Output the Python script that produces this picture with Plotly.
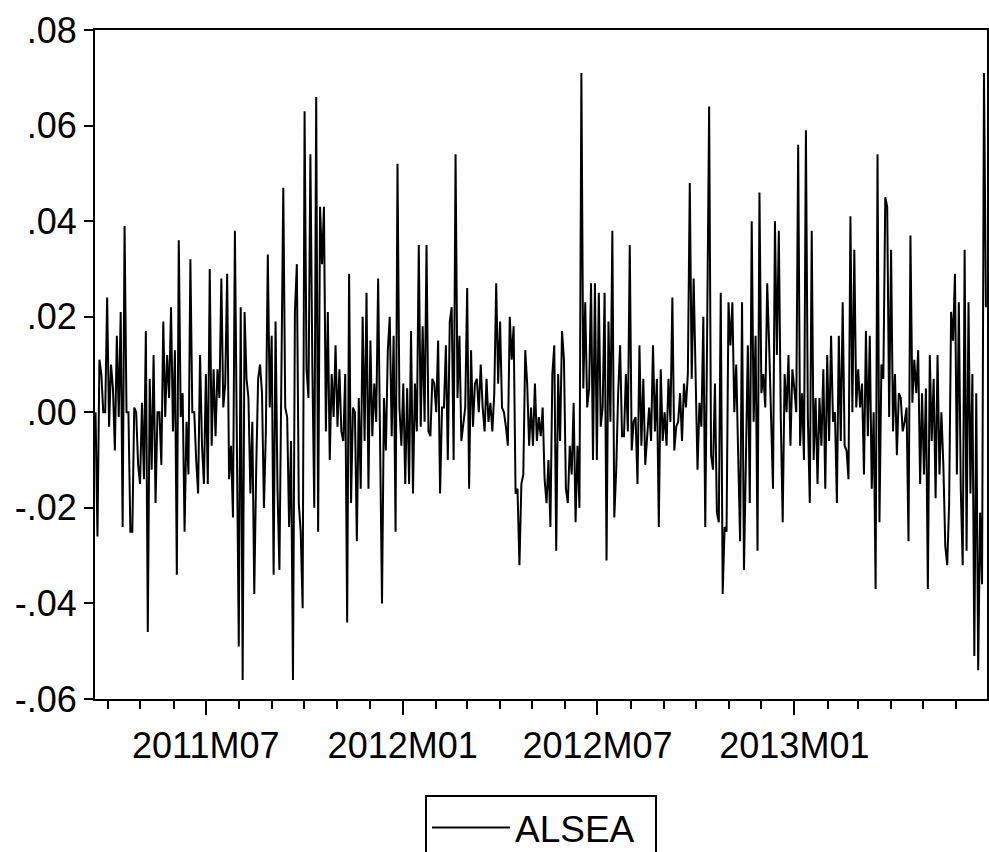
import pandas as pd
import plotly.graph_objects as go

# ALSEA daily returns (left to right)
alsea = [
    0.000, -0.026, 0.011, 0.008, 0.000, 0.000, 0.024, -0.003, 0.010, 0.005, -0.008, 0.016, -0.001, 0.021, -0.024,
    0.039, 0.000, 0.000, -0.025, -0.025, 0.001, 0.000, -0.011, -0.015, 0.002, -0.014, 0.017, -0.046, 0.007, -0.012,
    0.012, -0.019, 0.000, 0.000, -0.011, 0.019, -0.001, 0.012, 0.003, 0.022, -0.004, 0.013, -0.034, 0.036, -0.001,
    0.004, -0.025, -0.002, -0.013, 0.032, 0.000, 0.000, -0.010, -0.017, 0.012,
    -0.007, -0.015, 0.008, -0.015, 0.030, -0.007, 0.009, -0.005, 0.009, 0.003, 0.028, 0.001, 0.006, 0.029, -0.014,
    -0.007, -0.022, 0.038, -0.004, -0.049, 0.022, -0.056, 0.021, 0.007, 0.003, -0.017, -0.002, -0.038, -0.012, 0.007,
    0.010, 0.004, -0.020, -0.004, 0.033, 0.001, 0.016, -0.034, 0.019, -0.016, -0.033, 0.005, 0.047, 0.001, -0.001,
    -0.024, -0.006, -0.056, 0.021, 0.031, -0.019, -0.025, -0.041,
    0.063, 0.009, 0.003, 0.054, 0.010, -0.020, 0.066, -0.025, 0.043, 0.031, 0.043, -0.004, 0.021, -0.010, 0.008,
    -0.001, 0.014, -0.003, 0.009, -0.004, -0.006, 0.008, -0.044, 0.029, -0.019, 0.001, 0.000, -0.027, 0.003, -0.016,
    0.020, -0.006, 0.025, -0.016, 0.015, -0.005, 0.006, -0.002, 0.028, -0.006, -0.040, 0.003, -0.008, 0.013, 0.020,
    -0.005, 0.016, -0.025, 0.052, 0.001, -0.007, 0.006, -0.015, 0.005, -0.015, 0.017,
    -0.017, 0.006, -0.004, 0.035, -0.003, 0.018, -0.002, 0.035, -0.004, -0.005, 0.007, 0.006, 0.000, 0.015, -0.017,
    0.001, 0.001, 0.014, -0.010, 0.019, 0.022, -0.010, 0.054, 0.003, 0.016, -0.006, -0.002, 0.001, 0.026,
    -0.016, 0.013, -0.003, 0.006, 0.007, 0.000, 0.010, 0.001, -0.004, 0.007, -0.002, 0.002, -0.004, 0.004,
    0.027, 0.006, 0.019, 0.001, 0.000, -0.003, -0.007, 0.020, 0.011, 0.018, -0.017, -0.016, -0.032, -0.015,
    -0.013, 0.013, 0.006, -0.007, 0.001, -0.007, 0.006, -0.006, -0.001, -0.005, 0.001, -0.014, -0.019, -0.010, -0.024,
    0.008, 0.014, -0.029, 0.008, -0.006, 0.017, 0.011, -0.016, -0.019, -0.007, -0.013, 0.002, -0.023, -0.007, -0.020,
    0.071, 0.005, 0.023, 0.001, 0.005, 0.027, -0.010, 0.027, -0.010, 0.025, -0.003, 0.001, 0.025,
    -0.031, 0.019, -0.002, 0.038, -0.022, -0.012, 0.004, 0.014, -0.005,
    -0.005, 0.008, -0.004, 0.035, -0.008, -0.002, -0.001, -0.015, 0.014, -0.007, 0.007, -0.011, -0.005, 0.001, -0.006,
    0.014, -0.004, 0.007, -0.024, 0.009, -0.006, 0.000, -0.007, 0.007, -0.002, 0.024, -0.008, -0.003, -0.002, 0.004,
    -0.006, 0.006, 0.001, 0.008, 0.048, 0.007, 0.028, 0.010, -0.012, 0.002, -0.003, 0.020, -0.024, 0.018, 0.064,
    -0.009, -0.012, 0.006, -0.021, -0.023, 0.025, -0.038, -0.024, -0.025, 0.023, 0.014, 0.023, 0.000, 0.010,
    -0.009, -0.027, 0.023, -0.033, -0.010, 0.014, -0.019, 0.040, -0.002, 0.016, -0.029, 0.046, 0.004, 0.008, 0.001,
    0.027, 0.014, 0.001, -0.016, 0.040, 0.012, 0.038, -0.001, -0.023, 0.008, 0.000, 0.012, -0.007, 0.009, 0.005,
    0.000, 0.056, -0.007, 0.004, -0.010, 0.059, -0.001, -0.019, 0.038, -0.010, 0.003, -0.015, 0.003, -0.007, 0.009,
    -0.016, 0.012, -0.006, 0.016, -0.002, 0.000, -0.019, 0.016, -0.006, 0.023,
    -0.007, -0.008, -0.014, 0.041, 0.000, 0.034, 0.001, 0.009, 0.001, 0.006, -0.013, 0.017, -0.005, 0.016, -0.016,
    0.000, -0.037, 0.054, -0.023, 0.010, 0.007, 0.045, 0.043, -0.001, 0.034, -0.004, 0.008, -0.009, 0.004,
    0.003, -0.004, -0.002, 0.001, -0.027, 0.037, 0.002, 0.011, 0.004, 0.013, -0.015, 0.004, -0.013, 0.005,
    -0.037, 0.012, -0.006, 0.007, -0.018, 0.012, -0.013, 0.000, -0.011, -0.028, -0.032, -0.019, 0.021,
    0.015, 0.029, -0.013, 0.023, -0.016, -0.032, 0.034, -0.029, 0.023, -0.017, 0.008, -0.051, 0.004, -0.054,
    -0.021, -0.036, 0.071, 0.022,
]

sample_start = "2011-03-20"
sample_end = "2013-06-29"
dates = pd.date_range(sample_start, sample_end, periods=len(alsea))

x_tick_dates = ["2011-07-01", "2012-01-01", "2012-07-01", "2013-01-01"]
x_tick_text = ["2011M07", "2012M01", "2012M07", "2013M01"]
y_tick_vals = [-0.06, -0.04, -0.02, 0.00, 0.02, 0.04, 0.06, 0.08]
y_tick_text = ["-.06", "-.04", "-.02", ".00", ".02", ".04", ".06", ".08"]

FONT = "Liberation Sans, Arial, sans-serif"

fig = go.Figure()
fig.add_trace(go.Scatter(
    x=dates, y=alsea, mode="lines", name="ALSEA",
    line=dict(color="black", width=2),
))

fig.update_layout(
    width=989, height=852,
    margin=dict(l=95, r=2, t=30, b=153, autoexpand=False),
    paper_bgcolor="white", plot_bgcolor="white",
    font=dict(family=FONT, size=36, color="black"),
    showlegend=True,
    legend=dict(
        x=0.5, xanchor="center", y=-0.1435, yanchor="top",
        orientation="h", entrywidth=135, entrywidthmode="pixels",
        bordercolor="black", borderwidth=2, bgcolor="white",
        font=dict(family=FONT, size=37, color="black"),
        itemwidth=78,
    ),
)

fig.update_xaxes(
    type="date",
    range=["2011-03-19 12:00", "2013-06-30"],
    showgrid=False, zeroline=False,
    showline=True, linecolor="black", linewidth=2, mirror=True,
    tickmode="array", tickvals=x_tick_dates, ticktext=x_tick_text,
    ticks="outside", ticklen=14, tickwidth=1.5, tickcolor="black",
    minor=dict(dtick="M1", tick0="2011-01-01", ticks="outside", ticklen=8,
               tickwidth=1.5, tickcolor="black", showgrid=False),
    tickfont=dict(family=FONT, size=36, color="black"),
)
fig.update_yaxes(
    range=[-0.06, 0.08],
    showgrid=False, zeroline=False,
    showline=True, linecolor="black", linewidth=2, mirror=True,
    tickmode="array", tickvals=y_tick_vals, ticktext=y_tick_text,
    ticks="outside", ticklen=9, tickwidth=1.5, tickcolor="black",
    tickfont=dict(family=FONT, size=36, color="black"),
)

fig.write_html("out.html")
